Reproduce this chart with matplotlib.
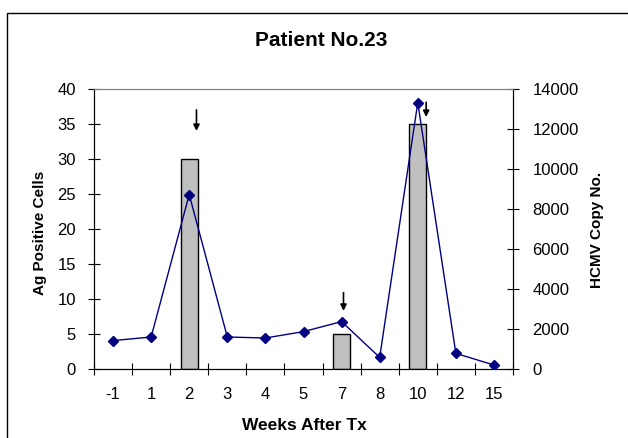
import matplotlib
matplotlib.use('Agg')
import matplotlib.pyplot as plt
from matplotlib.patches import Rectangle

plt.rcParams['font.family'] = ['Liberation Sans', 'DejaVu Sans']

# data
weeks = ['-1', '1', '2', '3', '4', '5', '7', '8', '10', '12', '15']
ag_cells = [0, 0, 30, 0, 0, 0, 5, 0, 35, 0, 0]
hcmv_copies = [1420, 1600, 8720, 1600, 1550, 1870, 2370, 580, 13320, 780, 200]
# arrows: (category index, offset, y start, y end) on left axis
arrows = [(2, 0.19, 37.4, 33.6), (6, 0.05, 11.3, 7.9), (8, 0.22, 38.5, 35.6)]

W, H = 628, 438
fig = plt.figure(figsize=(W / 100, H / 100), dpi=100)
fig.patches.append(Rectangle((7 / W, -0.1), 1.2, 1 - 13 / H + 0.1,
                             transform=fig.transFigure, fill=False,
                             edgecolor='black', linewidth=1.0))

ax = fig.add_axes([94 / W, 69 / H, 419 / W, 280 / H])
ax2 = ax.twinx()

x = list(range(len(weeks)))
bx = [i for i, v in zip(x, ag_cells) if v > 0]
bv = [v for v in ag_cells if v > 0]
ax.bar(bx, bv, width=0.45, color='#c0c0c0', edgecolor='black',
       linewidth=1.0, zorder=2)
ax2.plot(x, hcmv_copies, color='#000080', marker='D', markersize=5.5,
         linewidth=1.0, zorder=3)

ax.set_xlim(-0.5, len(weeks) - 0.5)
ax.set_ylim(0, 40)
ax2.set_ylim(0, 14000)
ax.set_yticks(range(0, 41, 5))
ax2.set_yticks(range(0, 14001, 2000))

# category boundaries as ticks, labels in the middle
ax.set_xticks([i - 0.5 for i in range(len(weeks) + 1)])
ax.set_xticklabels([])
ax.set_xticks(x, minor=True)
ax.set_xticklabels(weeks, minor=True, fontsize=12)
ax.tick_params(axis='x', which='major', direction='inout', length=8, width=0.8)
ax.tick_params(axis='x', which='minor', length=0, pad=13)
ax.tick_params(axis='y', direction='inout', length=8, width=0.8, labelsize=12, pad=9)
ax2.tick_params(axis='y', direction='inout', length=8, width=0.8, labelsize=12, pad=10)

for a in (ax, ax2):
    a.spines['top'].set_color('#808080')
    for s in a.spines.values():
        s.set_linewidth(0.8)

for i, off, y0, y1 in arrows:
    ax.annotate('', xy=(i + off, y1), xytext=(i + off, y0),
                arrowprops=dict(arrowstyle='-|>', color='black', lw=1.2,
                                mutation_scale=9))

fig.text(321 / W, 1 - 40 / H, 'Patient No.23', ha='center', va='center',
         fontsize=15, fontweight='bold')
fig.text(40 / W, 1 - 233 / H, 'Ag Positive Cells', ha='center', va='center',
         rotation=90, fontsize=11, fontweight='bold')
fig.text(597 / W, 1 - 230 / H, 'HCMV Copy No.', ha='center', va='center',
         rotation=90, fontsize=11, fontweight='bold')
fig.text(304 / W, 1 - 426 / H, 'Weeks After Tx', ha='center', va='center',
         fontsize=12.5, fontweight='bold')

fig.savefig('out.png', dpi=100)
